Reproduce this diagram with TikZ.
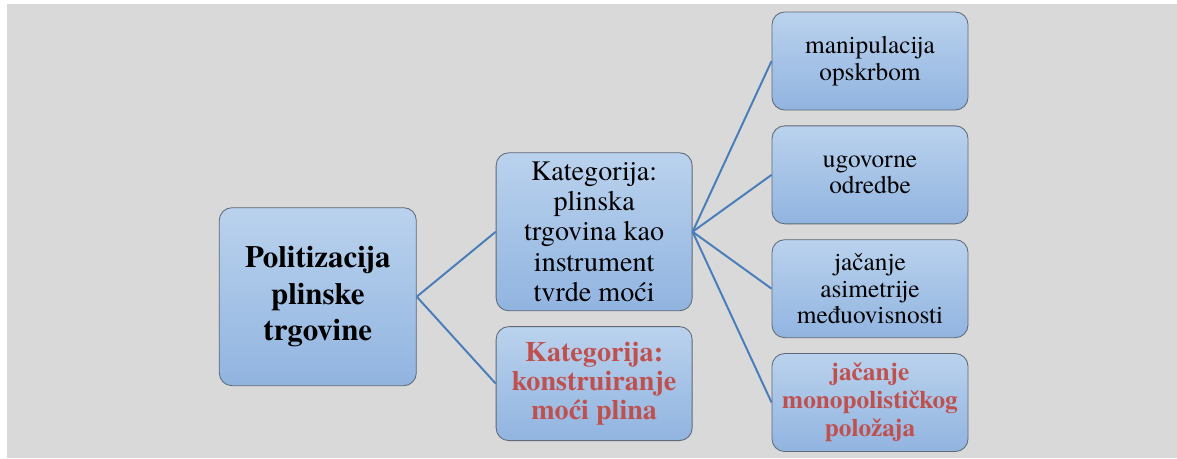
\documentclass[tikz,border=0pt]{standalone}
\usepackage{fontspec}
\IfFontExistsTF{texgyretermes-regular.otf}
  {\setmainfont{texgyretermes-regular.otf}[BoldFont=texgyretermes-bold.otf]}
  {}
\usepackage{tikz}
\definecolor{boxtop}{RGB}{186,210,237}
\definecolor{boxbottom}{RGB}{145,180,224}
\definecolor{boxborder}{RGB}{95,105,120}
\definecolor{linkblue}{RGB}{74,126,187}
\definecolor{accentred}{RGB}{192,80,77}
\definecolor{canvasgray}{RGB}{217,217,217}
\usetikzlibrary{positioning, calc}

\begin{document}
\begin{tikzpicture}[
    node distance=0.375cm,
    card/.style={rectangle, rounded corners=9pt, draw=boxborder, line width=0.6pt,
                 top color=boxtop, bottom color=boxbottom, align=center, inner sep=2pt},
    leaf/.style={card, minimum width=4.9cm, minimum height=2.45cm, font=\rmfamily\fontsize{18}{19}\selectfont},
    branch/.style={card, minimum width=4.9cm, font=\rmfamily\fontsize{20}{21.5}\selectfont},
    redtext/.style={text=accentred, font=\rmfamily\fontsize{20}{20.5}\selectfont\bfseries},
    link/.style={draw=linkblue, line width=1.4pt}
]
    \useasboundingbox (0,0) rectangle (29.425,-11.45);
    \fill[canvasgray] (0.175,-0.1) rectangle (29.425,-11.45);

    \node[leaf] (r1) at (21.75,-1.525) {manipulacija\\opskrbom};
    \node[leaf, below=of r1] (r2) {ugovorne\\odredbe};
    \node[leaf, below=of r2] (r3) {jačanje\\asimetrije\\međuovisnosti};
    \node[leaf, below=of r3, redtext, font=\rmfamily\fontsize{18}{20}\selectfont\bfseries] (r4) {jačanje\\monopolističkog\\položaja};

    \node[branch, minimum height=3.95cm, left=1.975cm of $(r2.south west)!0.5!(r3.north west)$] (cat1)
        {Kategorija:\\plinska\\trgovina kao\\instrument\\tvrde moći};
    \node[branch, minimum height=2.85cm, below=of cat1, redtext] (cat2)
        {Kategorija:\\konstruiranje\\moći plina};

    \node[card, minimum width=4.925cm, minimum height=4.45cm, font=\rmfamily\fontsize{22}{26}\selectfont\bfseries,
          left=1.975cm of $(cat1.north west)!0.5!(cat2.south west)$] (root)
        {Politizacija\\plinske\\trgovine};

    \draw[link] (root.east) -- (cat1.west);
    \draw[link] (root.east) -- (cat2.west);
    \foreach \leafname in {r1,r2,r3,r4}
        \draw[link] (cat1.east) -- (\leafname.west);
\end{tikzpicture}
\end{document}
